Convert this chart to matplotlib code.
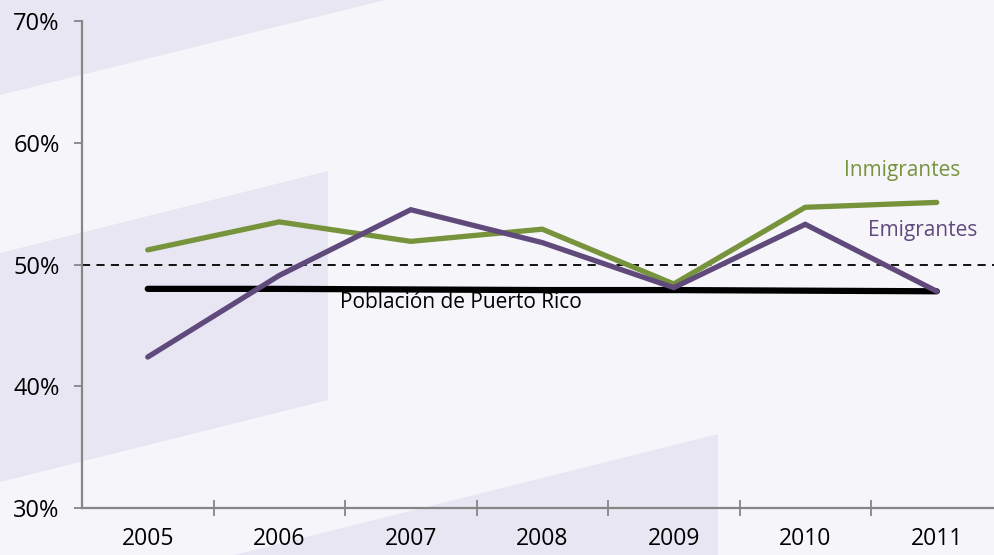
import matplotlib
matplotlib.use("Agg")
import matplotlib.pyplot as plt
from matplotlib.patches import Polygon

# data
years = ["2005", "2006", "2007", "2008", "2009", "2010", "2011"]
inmigrantes = [51.2, 53.5, 51.9, 52.9, 48.4, 54.7, 55.1]
emigrantes = [42.4, 49.1, 54.5, 51.8, 48.1, 53.3, 47.8]
poblacion_pr = [48.0, 48.0, 47.95, 47.9, 47.9, 47.85, 47.8]
yticks = [30, 40, 50, 60, 70]

BG = "#f6f5fa"
SHAPE = "#e8e6f2"
GREEN = "#77933c"
PURPLE = "#604a7b"
AXIS = "#868686"

plt.rcParams["font.family"] = ["Open Sans", "DejaVu Sans"]

W, H = 995, 555
fig = plt.figure(figsize=(W / 100, H / 100), dpi=100, facecolor=BG)

# decorative background bands (pixel coords, y from top)
bands = [
    [(0, 0), (385, 0), (0, 95)],
    [(0, 253), (328, 171), (328, 400), (0, 482)],
    [(234, 555), (718, 434), (718, 555)],
]
for pts in bands:
    fig.patches.append(Polygon([(x / W, 1 - y / H) for x, y in pts],
                               closed=True, facecolor=SHAPE, edgecolor="none",
                               transform=fig.transFigure, zorder=-1))

x0, x1 = 82, 1002.5
ytop, ybot = 21, 508
ax = fig.add_axes([x0 / W, 1 - ybot / H, (x1 - x0) / W, (ybot - ytop) / H])
ax.set_facecolor("none")
ax.set_zorder(1)

xs = range(len(years))
ax.axhline(50, color="black", lw=1.3, ls=(0, (4.5, 3.5)), zorder=2)
ax.plot(xs, poblacion_pr, color="black", lw=4.5, solid_capstyle="round", zorder=3)
ax.plot(xs, inmigrantes, color=GREEN, lw=3.8, solid_capstyle="round",
        solid_joinstyle="miter", zorder=4)
ax.plot(xs, emigrantes, color=PURPLE, lw=3.8, solid_capstyle="round",
        solid_joinstyle="miter", zorder=5)

ax.text(5.74, 57.7, "Inmigrantes", color=GREEN, fontsize=15, ha="center", va="center")
ax.text(5.89, 52.8, "Emigrantes", color=PURPLE, fontsize=15, ha="center", va="center")
ax.text(2.38, 46.9, "Población de Puerto Rico", color="black", fontsize=15,
        ha="center", va="center")

ax.set_xlim(-0.5, len(years) - 0.5)
ax.set_ylim(30, 70)
ax.set_yticks(yticks)
ax.set_yticklabels([f"{v}%" for v in yticks])
ax.set_xticks(xs)
ax.set_xticklabels(years)
ax.set_xticks([i + 0.5 for i in range(len(years))], minor=True)

for side in ["top", "right"]:
    ax.spines[side].set_visible(False)
for side in ["left", "bottom"]:
    ax.spines[side].set_color(AXIS)
    ax.spines[side].set_linewidth(1.6)

ax.tick_params(axis="y", length=6, width=1.3, color=AXIS, labelsize=17, pad=10)
ax.tick_params(axis="x", which="major", length=0, labelsize=16.5, pad=14)
ax.tick_params(axis="x", which="minor", direction="inout", length=12, width=1.3, color=AXIS)

fig.savefig("out.png", dpi=100, facecolor=BG)
